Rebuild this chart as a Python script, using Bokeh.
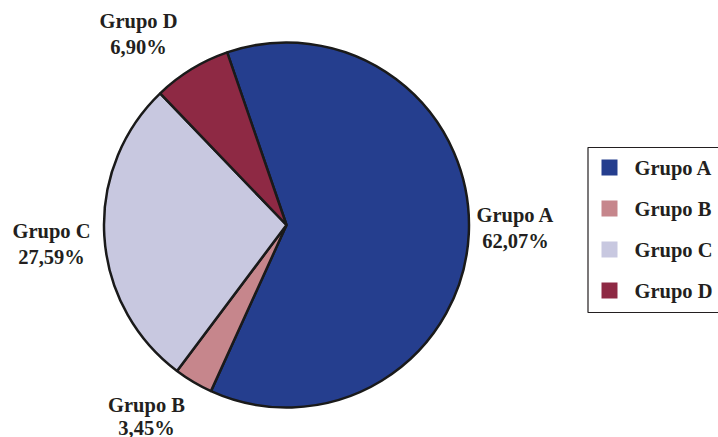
import math
from bokeh.plotting import figure
from bokeh.models import Range1d, ColumnDataSource
from bokeh.core.properties import value
from bokeh.embed import file_html
from bokeh.resources import INLINE

categories = ["Grupo A", "Grupo B", "Grupo C", "Grupo D"]
percents = [62.07, 3.45, 27.59, 6.90]
pct_labels = ["62,07%", "3,45%", "27,59%", "6,90%"]
colors = ["#253E8E", "#C6868C", "#C8C8E0", "#8E2944"]

W, H = 718, 437
SH = 437
p = figure(width=W, height=H, output_backend="svg", toolbar_location=None,
           x_range=Range1d(0, 718), y_range=Range1d(0, 437),
           min_border=0, outline_line_color=None)
p.axis.visible = False
p.grid.visible = False

cx, cy, r = 286, SH - 224.5, 182.5
start_cw = -19.0

starts, ends = [], []
acc = start_cw
for v in percents:
    a0 = acc
    a1 = acc + v / 100 * 360
    starts.append(math.radians(90 - a0))
    ends.append(math.radians(90 - a1))
    acc = a1

src = ColumnDataSource(dict(start=starts, end=ends, color=colors))
p.wedge(x=cx, y=cy, radius=r, start_angle="start", end_angle="end",
        direction="clock", fill_color="color", line_color="#1a1a1a",
        line_width=2.5, source=src)

font = value("Liberation Serif")
txt_color = "#231f20"
fs = "20.5px"
lab_x = [515, 146, 51, 138]
lab_mid = [214, 404, 230, 20]
pct_mid = [240, 427, 256, 46]
p.text(x=lab_x, y=[SH - y for y in lab_mid], text=categories, text_font=font,
       text_font_style="bold", text_font_size=fs, text_color=txt_color,
       text_align="center", text_baseline="middle")
p.text(x=lab_x, y=[SH - y for y in pct_mid], text=pct_labels, text_font=font,
       text_font_style="bold", text_font_size=fs, text_color=txt_color,
       text_align="center", text_baseline="middle")

p.quad(left=[587.5], right=[740], top=[SH - 147], bottom=[SH - 312],
       fill_color="white", line_color="#231f20", line_width=1.2)
leg_y = [167, 208, 249, 290]
p.rect(x=[609] * 4, y=[SH - y for y in leg_y], width=16, height=16,
       fill_color=colors, line_color=None)
p.text(x=[634] * 4, y=[SH - y for y in leg_y], text=categories, text_font=font,
       text_font_style="bold", text_font_size=fs, text_color=txt_color,
       text_align="left", text_baseline="middle")

open("out.html", "w").write(file_html(p, INLINE))
